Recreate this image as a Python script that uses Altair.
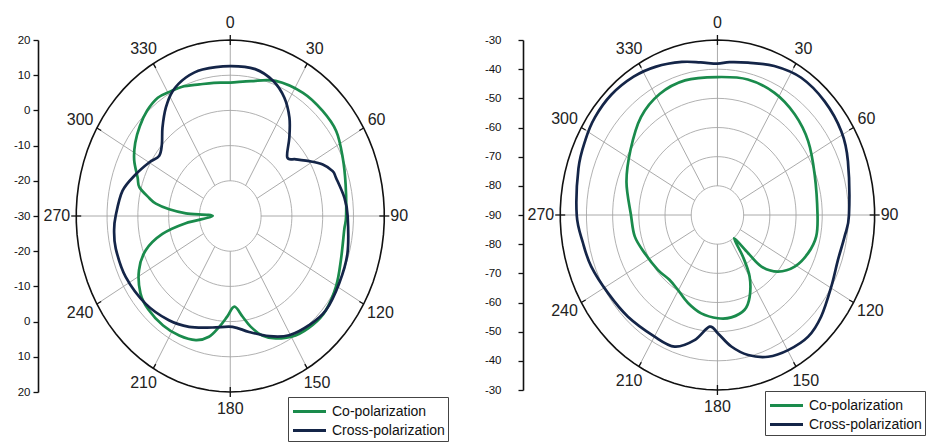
import altair as alt
import pandas as pd

SERIES = ["Co-polarization", "Cross-polarization"]
COLORS = ["#1a8b4c", "#142548"]
ANGLE_LABELS = [0, 30, 60, 90, 120, 150, 180, 210, 240, 270, 300, 330]

# ---- left panel (dB, radial scale -30 ... 20) ----
L_CO_ANG = [0, 10, 21, 34, 45, 55, 65.5, 76.5, 90, 96, 109, 120, 131, 139, 148, 157, 163, 168, 172, 177,
            182, 186.5, 191.4, 197.6, 206, 215, 225, 233, 242.5, 250.5, 257, 262, 270, 273, 275.5, 278.3,
            281, 285.5, 290, 297, 304, 311, 318, 325, 331, 337, 345, 352]
L_CO_DB = [7.9, 8.9, 11.1, 12.2, 12.3, 12.0, 10.1, 8.5, 7.6, 7.2, 8.0, 9.7, 11.0, 10.9, 10.0, 7.8, 5.5, 2.2, -1.1, -4.2,
           -1.4, 1.7, 5.0, 7.0, 7.8, 8.0, 7.6, 6.5, 3.4, -0.9, -7.4, -15.4, -24.3, -15.6, -10.1, -5.6,
           -3.2, 0.6, 2.0, 5.0, 7.2, 8.9, 10.3, 11.0, 10.4, 9.9, 8.7, 8.2]
L_CX_ANG = [0, 11, 20, 27.6, 34.5, 40.7, 48, 52.9, 58.7, 64, 69, 72.4, 82, 90, 105.7, 118.5, 130.8, 140.5,
            150.6, 159.7, 169.5, 178.7, 190.4, 203, 213.9, 227.7, 243, 256, 264, 270, 281.5, 291, 300,
            306.4, 312.5, 318.8, 325.8, 332.2, 339.9, 347.8]
L_CX_DB = [12.6, 12.5, 10.8, 7.9, 3.9, -0.6, -5.1, -3.3, 0.0, 3.4, 5.6, 6.0, 7.4, 8.1, 9.5, 10.2, 11.0, 10.2,
           8.9, 6.4, 3.5, 1.5, 2.2, 4.2, 5.7, 7.1, 8.1, 8.3, 7.9, 7.2, 5.7, 2.9, 0.4,
           -1.3, 0.1, 3.4, 7.2, 10.1, 11.9, 12.6]

# ---- right panel (dB, radial scale -90 ... -30) ----
R_CO_ANG = [0, 14, 27.5, 40.5, 53.8, 69.6, 90, 101, 110.7, 121, 130, 136.5, 138.2, 141.5, 145.7, 149.8,
            156.3, 162.3, 171.4, 179.7, 190.4, 200.4, 210.4, 219.5, 230.4, 244.8, 256.9, 270, 288, 304,
            319, 332, 345]
R_CO_DB = [-42.7, -42.1, -42.8, -44.6, -47.1, -50.4, -51.8, -51.6, -53.0, -55.6, -59.8, -65.6, -72.5, -79.8,
           -72.8, -65.6, -59.4, -55.9, -54.5, -54.6, -55.7, -57.8, -60.2, -61.2, -60.5, -59.3, -57.6, -57.0,
           -53.5, -50.0, -45.5, -43.0, -42.2]
R_CX_ANG = [0, 5, 12.6, 23, 34.2, 46.4, 58.8, 69.7, 90, 98.5, 108.5, 119.4, 131.3, 140.3, 149.8, 158.3,
            166.3, 173.3, 179.7, 184.5, 191.5, 199.9, 209.9, 224.4, 237.3, 249.8, 259.4, 270, 286.8, 297.2,
            305.6, 315.5, 326, 335.3, 345.5, 353]
R_CX_DB = [-38.1, -37.4, -36.5, -34.5, -33.1, -33.5, -34.7, -36.9, -39.8, -40.9, -41.5, -40.1, -37.3, -35.8,
           -36.4, -37.7, -40.6, -44.6, -49.4, -51.6, -46.2, -42.0, -41.9, -41.2, -40.4, -38.7, -37.8, -36.3,
           -34.6, -33.4, -32.5, -32.2, -32.8, -34.0, -35.8, -37.3]

FONT = "Liberation Sans"


def panel(co_ang, co_db, cx_ang, cx_db, center, n, xdom, width, height, legend_xy, label_pad):
    xs = alt.Scale(domain=xdom, nice=False, zero=False)
    ys = alt.Scale(domain=[-n, n], nice=False, zero=False)
    ux = width / (xdom[1] - xdom[0])
    uy = height / (2 * n)

    yaxis = alt.Axis(
        values=list(range(-n, n + 1)),
        labelExpr=f"'' + ({center} + abs(datum.value)*10)",
        title=None, grid=False, orient="left",
        domainColor="#111", domainWidth=1.6, tickColor="#111", tickWidth=1.3, tickSize=5,
        labelFontSize=11.5, labelColor="#111", labelPadding=label_pad, labelFont=FONT,
    )

    def enc(xf, yf):
        return dict(
            x=alt.X(xf, scale=xs, axis=None),
            y=alt.Y(yf, scale=ys, axis=yaxis),
        )

    # grid rings
    ring_rows = []
    for k in range(1, n + 1):
        for i, a in enumerate(range(0, 361, 4)):
            ring_rows.append({"ring": k, "i": i, "a": a})
    rings = pd.DataFrame(ring_rows)
    ring_base = alt.Chart(rings).transform_calculate(
        px="datum.ring*sin(datum.a*PI/180)",
        py="datum.ring*cos(datum.a*PI/180)",
    )
    inner = ring_base.transform_filter(f"datum.ring < {n}").mark_line(
        color="#a8a8a8", strokeWidth=0.9
    ).encode(**enc("px:Q", "py:Q"), detail="ring:N", order="i:Q")
    outer = ring_base.transform_filter(f"datum.ring == {n}").mark_line(
        color="#111", strokeWidth=1.6
    ).encode(**enc("px:Q", "py:Q"), order="i:Q")

    spokes_df = pd.DataFrame({"a": ANGLE_LABELS})
    spokes = alt.Chart(spokes_df).transform_calculate(
        x1="sin(datum.a*PI/180)", y1="cos(datum.a*PI/180)",
        x2=f"{n}*sin(datum.a*PI/180)", y2=f"{n}*cos(datum.a*PI/180)",
    ).mark_rule(color="#a0a0a0", strokeWidth=0.9).encode(
        **enc("x1:Q", "y1:Q"), x2="x2:Q", y2="y2:Q",
    )
    ticks = alt.Chart(spokes_df).transform_calculate(
        x1=f"{n}*sin(datum.a*PI/180) - 5*sin(datum.a*PI/180)/{ux}",
        y1=f"{n}*cos(datum.a*PI/180) - 5*cos(datum.a*PI/180)/{uy}",
        x2=f"{n}*sin(datum.a*PI/180) + (datum.a % 90 == 0 ? 5 : 0)*sin(datum.a*PI/180)/{ux}",
        y2=f"{n}*cos(datum.a*PI/180) + (datum.a % 90 == 0 ? 5 : 0)*cos(datum.a*PI/180)/{uy}",
    ).mark_rule(color="#111", strokeWidth=1.3).encode(
        **enc("x1:Q", "y1:Q"), x2="x2:Q", y2="y2:Q",
    )
    labels = alt.Chart(spokes_df).transform_calculate(
        txt="'' + datum.a",
    ).transform_calculate(
        px=f"{n}*sin(datum.a*PI/180) + sin(datum.a*PI/180)*(6 + length(datum.txt)*4.45)/{ux}",
        py=f"{n}*cos(datum.a*PI/180) + cos(datum.a*PI/180)*17/{uy}",
    ).mark_text(fontSize=16, font=FONT, color="#222", align="center", baseline="middle").encode(
        **enc("px:Q", "py:Q"), text="txt:N",
    )

    curves = pd.DataFrame({
        "series": [SERIES[0]] * len(co_ang) + [SERIES[1]] * len(cx_ang),
        "idx": list(range(len(co_ang))) + list(range(len(cx_ang))),
        "angle": list(co_ang) + list(cx_ang),
        "db": list(co_db) + list(cx_db),
    })
    lines = alt.Chart(curves).transform_calculate(
        r=f"(datum.db - ({center}))/10",
    ).transform_calculate(
        px="datum.r*sin(datum.angle*PI/180)",
        py="datum.r*cos(datum.angle*PI/180)",
    ).mark_line(interpolate="cardinal-closed", strokeWidth=2.7).encode(
        **enc("px:Q", "py:Q"),
        color=alt.Color(
            "series:N",
            scale=alt.Scale(domain=SERIES, range=COLORS),
            legend=alt.Legend(
                orient="none", legendX=legend_xy[0], legendY=legend_xy[1], title=None,
                symbolType="M-1.65,0H1.65", symbolSize=400, symbolStrokeWidth=3,
                symbolOffset=7, symbolFillColor="transparent",
                labelFontSize=14, labelFont=FONT, labelColor="#111",
                strokeColor="#444", fillColor="white", padding=3, rowPadding=0,
                labelOffset=11,
            ),
        ),
        detail="series:N",
        order="idx:Q",
    )
    return alt.layer(inner, spokes, outer, ticks, labels, lines).properties(width=width, height=height)


left = panel(L_CO_ANG, L_CO_DB, L_CX_ANG, L_CX_DB, -30, 5,
             [-6.24, 6.45], 391, 352, (250, 357), 3)
right = panel(R_CO_ANG, R_CO_DB, R_CX_ANG, R_CX_DB, -90, 6,
              [-7.42, 7.73], 397, 350, (242, 351), 17)

chart = alt.hconcat(left, right, spacing=94, bounds="flush").resolve_scale(
    color="independent", x="independent", y="independent"
).resolve_legend(color="independent").configure(
    font=FONT
).configure_view(strokeWidth=0, stroke="transparent").properties(
    padding={"left": 5, "top": 6, "right": 0, "bottom": 0}, background="white"
)

chart.save("out.html", embed_options={"renderer": "svg", "actions": False})
